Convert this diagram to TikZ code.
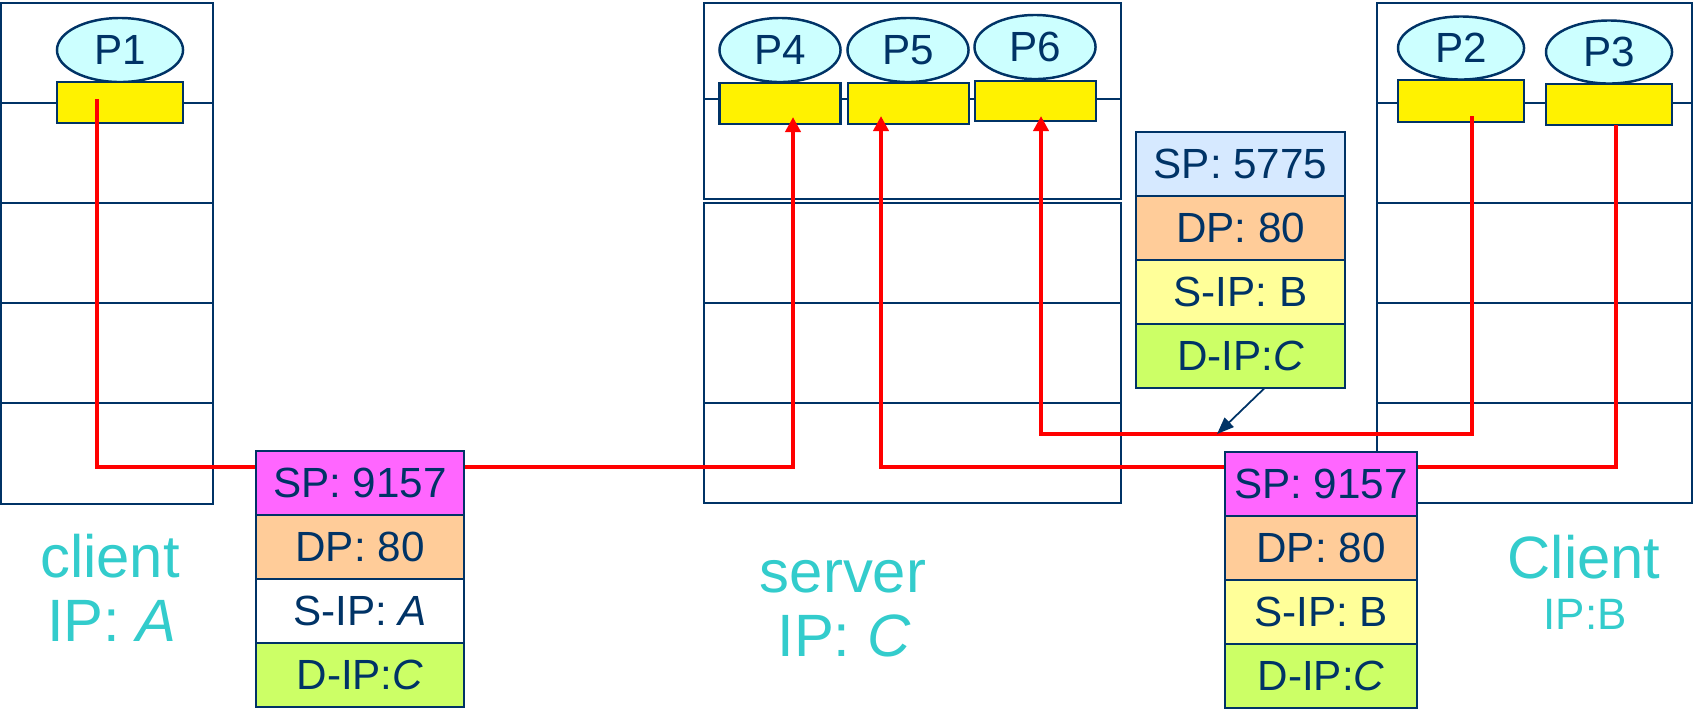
\documentclass[tikz,border=0pt]{standalone}
\usepackage{fontspec}
\setmainfont{Liberation Sans}
\usetikzlibrary{positioning, shapes.geometric, arrows.meta}

\definecolor{navy}{HTML}{003366}
\definecolor{proccol}{HTML}{CCFFFF}
\definecolor{lblcol}{HTML}{33CCCC}
\definecolor{spcol}{HTML}{FF66FF}
\definecolor{sptcol}{HTML}{D6E9FF}
\definecolor{dpcol}{HTML}{FFCC99}
\definecolor{sipcol}{HTML}{FFFF99}
\definecolor{dipcol}{HTML}{CCFF66}

\tikzset{
  host/.style={draw=navy, line width=0.7pt},
  proc/.style={ellipse, draw=navy, line width=0.7pt, fill=proccol, minimum width=1.26cm,
    minimum height=0.64cm, inner sep=0pt, text=navy, font=\fontsize{12}{14}\selectfont},
  sock/.style={rectangle, draw=navy, line width=0.8pt, fill=yellow, minimum width=1.26cm,
    minimum height=0.41cm, inner sep=0pt},
  field/.style={rectangle, draw=navy, line width=0.7pt, minimum width=2.08cm,
    minimum height=0.64cm, inner sep=0pt, outer sep=0pt, text=navy,
    font=\fontsize{12}{14}\selectfont},
  wire/.style={red, line width=1.2pt},
  into/.style={wire, -{Triangle[length=0.15cm,width=0.15cm]}},
  hostlbl/.style={text=lblcol, font=\fontsize{17}{20}\selectfont},
}

\begin{document}
\begin{tikzpicture}[x=0.01cm, y=-0.01cm]
    \useasboundingbox (0,0) rectangle (1695,711);

    % hosts
    \draw[host] (1,3) rectangle (213,504);
    \foreach \y in {103,203,303,403}
        \draw[host] (1,\y) -- (213,\y);
    \draw[host] (704,3) rectangle (1121,199);
    \draw[host] (704,99) -- (1121,99);
    \draw[host] (704,203) rectangle (1121,503);
    \foreach \y in {303,403}
        \draw[host] (704,\y) -- (1121,\y);
    \draw[host] (1377,3) rectangle (1692,503);
    \foreach \y in {103,203,303,403}
        \draw[host] (1377,\y) -- (1692,\y);

    % processes and sockets
    \node[proc] (P1) at (120,50) {P1};
    \node[sock] (s1) at (120,102.5) {};
    \node[proc, minimum width=1.21cm] (P4) at (780,50) {P4};
    \node[proc, minimum width=1.21cm] (P5) at (908,50) {P5};
    \node[proc, minimum width=1.21cm] (P6) at (1035,47) {P6};
    \node[sock, minimum width=1.21cm] (s4) at (780,103.5) {};
    \node[sock, minimum width=1.21cm] (s5) at (908.5,103.5) {};
    \node[sock, minimum width=1.21cm, minimum height=0.4cm] (s6) at (1035.5,101) {};
    \node[proc, minimum height=0.63cm] (P2) at (1461,48) {P2};
    \node[proc, minimum height=0.63cm] (P3) at (1609,52) {P3};
    \node[sock, minimum height=0.42cm] (s2) at (1461,101) {};
    \node[sock] (s3) at (1609,104.5) {};

    % paths between sockets
    \coordinate (s1p) at (97,99);
    \coordinate (cA) at (97,467);
    \coordinate (s4p) at (793,117);
    \coordinate (s3p) at (1616,125);
    \coordinate (cB) at (1616,467);
    \coordinate (s5p) at (881,116);
    \coordinate (s2p) at (1472,116);
    \coordinate (cC) at (1472,434);
    \coordinate (s6p) at (1041,116);
    \draw[into] (s1p) -- (cA) -| (s4p);
    \draw[into] (s3p) -- (cB) -| (s5p);
    \draw[into] (s2p) -- (cC) -| (s6p);

    % segments
    \node[field, fill=spcol] (a-sp) at (360,483) {SP: 9157};
    \node[field, fill=dpcol, below=0pt of a-sp] (a-dp) {DP: 80};
    \node[field, fill=white, below=0pt of a-dp] (a-sip) {S-IP: \textit{A}};
    \node[field, fill=dipcol, below=0pt of a-sip] (a-dip) {D-IP:\textit{C}};

    \node[field, fill=spcol, minimum width=1.92cm] (b-sp) at (1321,484) {SP: 9157};
    \node[field, fill=dpcol, minimum width=1.92cm, below=0pt of b-sp] (b-dp) {DP: 80};
    \node[field, fill=sipcol, minimum width=1.92cm, below=0pt of b-dp] (b-sip) {S-IP: B};
    \node[field, fill=dipcol, minimum width=1.92cm, below=0pt of b-sip] (b-dip) {D-IP:\textit{C}};

    \node[field, fill=sptcol, minimum width=2.09cm] (t-sp) at (1240.5,164) {SP: 5775};
    \node[field, fill=dpcol, minimum width=2.09cm, below=0pt of t-sp] (t-dp) {DP: 80};
    \node[field, fill=sipcol, minimum width=2.09cm, below=0pt of t-dp] (t-sip) {S-IP: B};
    \node[field, fill=dipcol, minimum width=2.09cm, below=0pt of t-sip] (t-dip) {D-IP:\textit{C}};

    \coordinate (tip) at (1217,434);
    \draw[navy, line width=0.5pt, -{Triangle[length=0.17cm,width=0.13cm]}]
        ([xshift=0.24cm]t-dip.south) -- (tip);

    % labels
    \node[hostlbl] (cl-a) at (110,556) {client};
    \node[hostlbl] (ip-a) at (112,621) {IP: \textit{A}};
    \node[hostlbl] (sv-c) at (843,577) {server};
    \node[hostlbl] (ip-c) at (844,636) {IP: \textit{C}};
    \node[hostlbl] (cl-b) at (1584,557) {Client};
    \node[hostlbl, font=\fontsize{12.5}{14}\selectfont] (ip-b) at (1585,614) {IP:B};
\end{tikzpicture}
\end{document}
